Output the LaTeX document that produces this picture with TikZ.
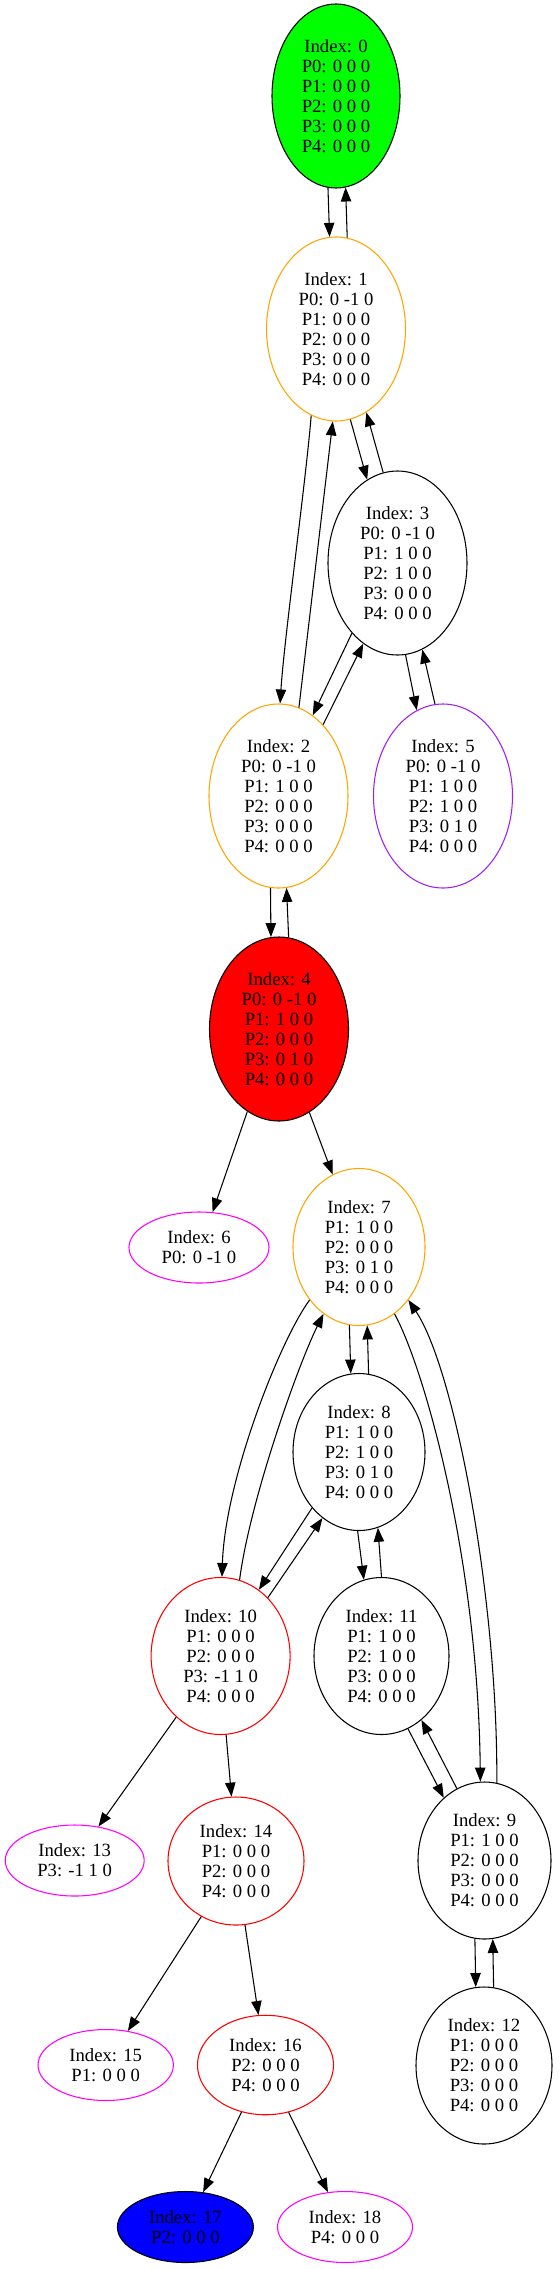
\documentclass[tikz,border=0pt]{standalone}
\usepackage{fontspec}
\setmainfont{Liberation Serif}
\usetikzlibrary{arrows.meta,shapes.geometric}
\definecolor{gvgreen}{RGB}{0,255,0}
\definecolor{gvorange}{RGB}{255,165,0}
\definecolor{gvpurple}{RGB}{160,32,240}
\definecolor{gvmagenta}{RGB}{255,0,255}
\definecolor{gvred}{RGB}{255,0,0}
\definecolor{gvblue}{RGB}{0,0,255}
\newcommand\gvf{\fontsize{14}{15}\selectfont}
\tikzset{
  gv/.style={ellipse, draw, inner sep=0pt, align=center, font=\gvf, line width=0.8pt},
  sz/.style 2 args={minimum width=#1*0.75pt, minimum height=#2*0.75pt},
  ed/.style={-{Triangle[length=10.5pt,width=7.8pt]}, line width=0.8pt},
}
\begin{document}
\begin{tikzpicture}[x=0.75pt,y=-0.75pt]
\useasboundingbox (0,0) rectangle (558,2269);
\node[gv, sz={128}{184}, fill=gvgreen] (n0) at (336,96) {Index: 0\\P0: 0 0 0\\P1: 0 0 0\\P2: 0 0 0\\P3: 0 0 0\\P4: 0 0 0};
\node[gv, sz={139}{184}, draw=gvorange] (n1) at (336,329) {Index: 1\\P0: 0 -1 0\\P1: 0 0 0\\P2: 0 0 0\\P3: 0 0 0\\P4: 0 0 0};
\node[gv, sz={139}{184}] (n3) at (397.5,563) {Index: 3\\P0: 0 -1 0\\P1: 1 0 0\\P2: 1 0 0\\P3: 0 0 0\\P4: 0 0 0};
\node[gv, sz={139}{184}, draw=gvorange] (n2) at (278.5,796) {Index: 2\\P0: 0 -1 0\\P1: 1 0 0\\P2: 0 0 0\\P3: 0 0 0\\P4: 0 0 0};
\node[gv, sz={139}{184}, draw=gvpurple] (n5) at (443,796) {Index: 5\\P0: 0 -1 0\\P1: 1 0 0\\P2: 1 0 0\\P3: 0 1 0\\P4: 0 0 0};
\node[gv, sz={139}{184}, fill=gvred] (n4) at (279,1029) {Index: 4\\P0: 0 -1 0\\P1: 1 0 0\\P2: 0 0 0\\P3: 0 1 0\\P4: 0 0 0};
\node[gv, sz={140}{71}, draw=gvmagenta] (n6) at (199,1247.5) {Index: 6\\P0: 0 -1 0};
\node[gv, sz={132}{157}, draw=gvorange] (n7) at (359,1247) {Index: 7\\P1: 1 0 0\\P2: 0 0 0\\P3: 0 1 0\\P4: 0 0 0};
\node[gv, sz={132}{157}] (n8) at (359,1452) {Index: 8\\P1: 1 0 0\\P2: 1 0 0\\P3: 0 1 0\\P4: 0 0 0};
\node[gv, sz={139}{157}, draw=gvred] (n10) at (220.6,1656) {Index: 10\\P1: 0 0 0\\P2: 0 0 0\\P3: -1 1 0\\P4: 0 0 0};
\node[gv, sz={135}{157}] (n11) at (381.5,1656) {Index: 11\\P1: 1 0 0\\P2: 1 0 0\\P3: 0 0 0\\P4: 0 0 0};
\node[gv, sz={133}{157}] (n9) at (484.5,1860.5) {Index: 9\\P1: 1 0 0\\P2: 0 0 0\\P3: 0 0 0\\P4: 0 0 0};
\node[gv, sz={139}{71}, draw=gvmagenta] (n13) at (74.7,1860.5) {Index: 13\\P3: -1 1 0};
\node[gv, sz={136}{128}, draw=gvred] (n14) at (236,1861) {Index: 14\\P1: 0 0 0\\P2: 0 0 0\\P4: 0 0 0};
\node[gv, sz={136}{157}] (n12) at (484,2065.5) {Index: 12\\P1: 0 0 0\\P2: 0 0 0\\P3: 0 0 0\\P4: 0 0 0};
\node[gv, sz={135.4}{71}, draw=gvmagenta] (n15) at (105.7,2065) {Index: 15\\P1: 0 0 0};
\node[gv, sz={136}{99.5}, draw=gvred] (n16) at (265.5,2065) {Index: 16\\P2: 0 0 0\\P4: 0 0 0};
\node[gv, sz={136}{71}, fill=gvblue] (n17) at (185.4,2227) {Index: 17\\P2: 0 0 0};
\node[gv, sz={135}{71}, draw=gvmagenta] (n18) at (345,2227) {Index: 18\\P4: 0 0 0};

\draw[ed] (n0.265.4) -- (n1.94.7);
\draw[ed] (n1.83.7) -- (n0.276.1);
\draw[ed] (n1.254.7) .. controls (306,480) and (284,640) .. (n2.89.1);
\draw[ed] (n2.77.9) -- (n1.268.8);
\draw[ed] (n1.279.9) -- (n3.110.3);
\draw[ed] (n3.99.4) -- (n1.290.6);
\draw[ed] (n3.237.7) -- (n2.67.5);
\draw[ed] (n2.58.6) -- (n3.247.8);
\draw[ed] (n3.275.9) -- (n5.107.4);
\draw[ed] (n5.95.9) -- (n3.286.8);
\draw[ed] (n2.265) -- (n4.95.3);
\draw[ed] (n4.84.7) -- (n2.275.6);
\draw[ed] (n4.249.7) -- (n6.69.9);
\draw[ed] (n4.290.2) -- (n7.110.1);
\draw[ed] (n7.263.9) -- (n8.96.2);
\draw[ed] (n8.83.7) -- (n7.276.2);
\draw[ed] (n7.227.2) .. controls (280,1340) and (225,1480) .. (n10.89.7);
\draw[ed] (n10.76.3) .. controls (250,1500) and (298,1365) .. (n7.242.1);
\draw[ed] (n7.298.6) .. controls (425,1370) and (478,1560) .. (n9.93.5);
\draw[ed] (n9.81.2) .. controls (498,1600) and (455,1370) .. (n7.313);
\draw[ed] (n8.230.8) -- (n10.60.5);
\draw[ed] (n10.51) -- (n8.241);
\draw[ed] (n8.269.8) -- (n11.103.7);
\draw[ed] (n11.90) -- (n8.284);
\draw[ed] (n11.290.9) -- (n9.123.6);
\draw[ed] (n9.111.5) -- (n11.302);
\draw[ed] (n10.234.3) -- (n13.55.2);
\draw[ed] (n10.274.4) -- (n14.94.8);
\draw[ed] (n9.263.7) -- (n12.96);
\draw[ed] (n12.83.5) -- (n9.276.2);
\draw[ed] (n14.238) -- (n15.57.2);
\draw[ed] (n14.278.5) -- (n16.98.7);
\draw[ed] (n16.243.9) -- (n17.63.3);
\draw[ed] (n16.296.1) -- (n18.116.6);
\end{tikzpicture}
\end{document}
